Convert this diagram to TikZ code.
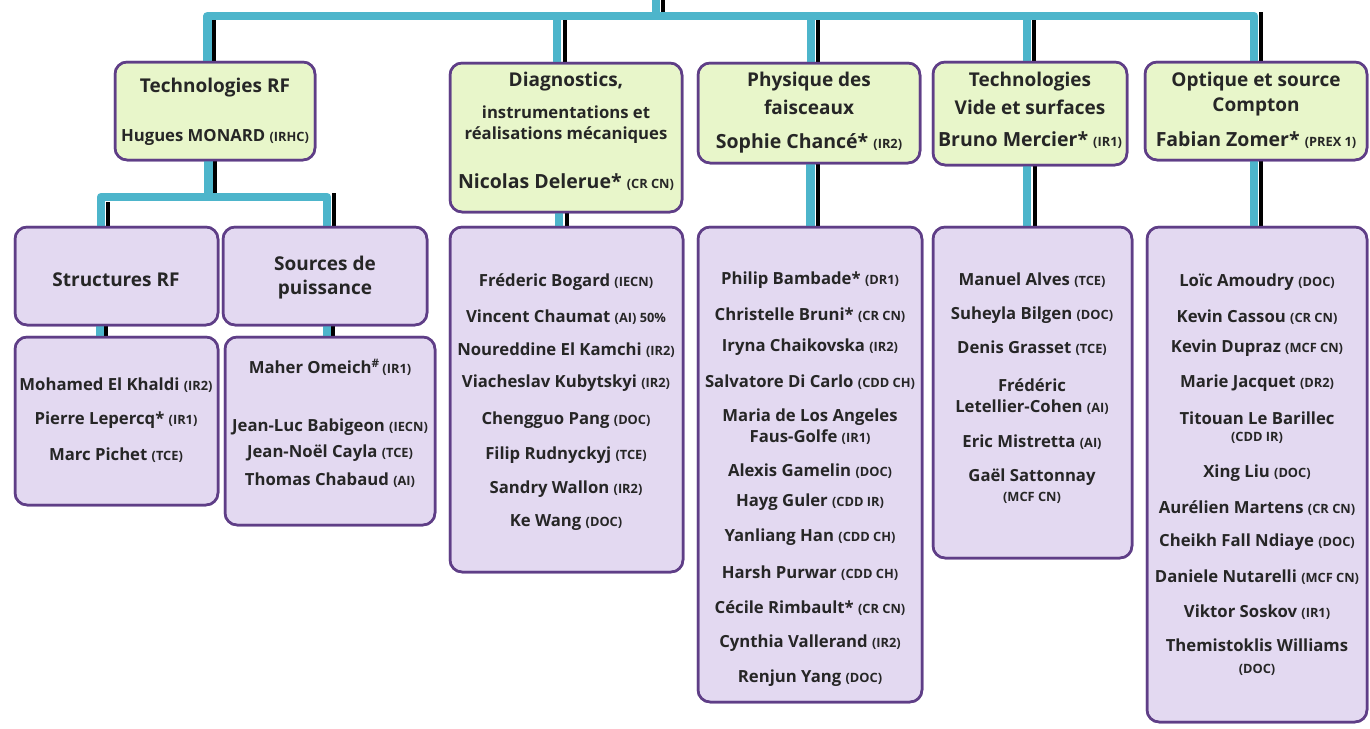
\documentclass[tikz,border=0pt]{standalone}
\usepackage{fontspec}
\setmainfont{Open Sans}
\usetikzlibrary{fit}
\definecolor{gfill}{HTML}{E8F6CA}
\definecolor{pfill}{HTML}{E3D9F1}
\definecolor{bord}{HTML}{5F3E87}
\definecolor{cblue}{HTML}{4DB5CB}
\tikzset{
 box/.style={draw=bord, line width=2.5pt, rounded corners=12pt, inner sep=0pt},
 gbox/.style={box, fill=gfill},
 pbox/.style={box, fill=pfill},
 conn/.style={draw=cblue, line width=8.5pt, line join=round},
 shade/.style={draw=black, line width=4pt},
 txt/.style={font=\bfseries\fontsize{16.7}{18}\selectfont, inner sep=0pt, text=black!85},
 head/.style={font=\bfseries\fontsize{19}{21}\selectfont, inner sep=0pt, text=black!85},
 mid/.style={font=\bfseries\fontsize{16.7}{18}\selectfont, inner sep=0pt, text=black!85},
 big/.style={font=\bfseries\fontsize{19.5}{21}\selectfont, inner sep=0pt, text=black!85},
}
\newcommand\tg[1]{{\fontsize{12.8}{14}\selectfont #1}}
\begin{document}
\begin{tikzpicture}[x=1pt,y=-1pt]
\useasboundingbox (0,0) rectangle (1370,728);
% ---------- boxes ----------
\node[gbox, fit={(115,62)(315,160)}] (trf) {};
\node[gbox, fit={(450,63)(682,212)}] (diag) {};
\node[gbox, fit={(698,63)(920,163)}] (phys) {};
\node[gbox, fit={(933,62)(1127,165)}] (vide) {};
\node[gbox, fit={(1145,62)(1367,160)}] (opt) {};
\node[pbox, fit={(15,227)(218,325)}] (srf) {};
\node[pbox, fit={(223,227)(427,325)}] (spu) {};
\node[pbox, fit={(15,337)(218,505)}] (srfm) {};
\node[pbox, fit={(225,337)(435,525)}] (spum) {};
\node[pbox, fit={(450,227)(683,572)}] (diagm) {};
\node[pbox, fit={(698,227)(922,702)}] (physm) {};
\node[pbox, fit={(933,227)(1132,558)}] (videm) {};
\node[pbox, fit={(1147,227)(1367,722)}] (optm) {};
% ---------- connectors ----------
\coordinate (topend) at (656,0);
\coordinate (barL) at (207.5,16);
\coordinate (barB) at (0,20);
\coordinate (barT) at (0,12);
\coordinate (bar2) at (0,197);
\coordinate (bar2T) at (0,193);
\coordinate (bar2B) at (0,201.5);
\draw[conn] ([xshift=-7.5pt]trf.north) -- (barL) -- ([xshift=-2pt]opt.north |- barL) -- ([xshift=-2pt]opt.north);
\draw[conn] (topend) -- (topend |- barL);
\draw[conn] ([xshift=-9pt]diag.north) -- ([xshift=-9pt]diag.north |- barL);
\draw[conn] ([xshift=2pt]phys.north) -- ([xshift=2pt]phys.north |- barL);
\draw[conn] ([xshift=-3pt]vide.north) -- ([xshift=-3pt]vide.north |- barL);
% second level
\draw[conn] ([xshift=-6.5pt]trf.south) -- ([xshift=-6.5pt]trf.south |- bar2);
\draw[conn] ([xshift=-15.5pt]srf.north) -- ([xshift=-15.5pt]srf.north |- bar2) -- ([xshift=2pt]spu.north |- bar2) -- ([xshift=2pt]spu.north);
\draw[conn] ([xshift=-16.5pt]srf.south) -- ([xshift=-16.5pt]srf.south |- srfm.north);
\draw[conn] ([xshift=2.5pt]spu.south) -- ([xshift=2.5pt]spu.south |- spum.north);
\draw[conn] ([xshift=-7pt]diag.south) -- ([xshift=-7pt]diag.south |- diagm.north);
\draw[conn] ([xshift=1.5pt]phys.south) -- ([xshift=1.5pt]phys.south |- physm.north);
\draw[conn] ([xshift=-3pt]vide.south) -- ([xshift=-3pt]vide.south |- videm.north);
\draw[conn] ([xshift=-2pt]opt.south) -- ([xshift=-2pt]opt.south |- optm.north);
% black shadows
\draw[shade] ([xshift=6.5pt]topend) -- ([xshift=6.5pt]topend |- barT);
\draw[shade] ([xshift=-1pt]trf.north) -- ([xshift=-1pt]trf.north |- barB);
\draw[shade] ([xshift=-1pt]diag.north) -- ([xshift=-1pt]diag.north |- barB);
\draw[shade] ([xshift=8.5pt]phys.north) -- ([xshift=8.5pt]phys.north |- barB);
\draw[shade] ([xshift=4pt]vide.north) -- ([xshift=4pt]vide.north |- barB);
\draw[shade] ([xshift=5pt]opt.north) -- ([xshift=5pt]opt.north |- barT);
\draw[shade] ([xshift=-0.5pt]trf.south) -- ([xshift=-0.5pt]trf.south |- bar2T);
\draw[shade] ([xshift=-9pt]srf.north) -- ([xshift=-9pt]srf.north |- bar2B);
\draw[shade] ([xshift=9pt]spu.north) -- ([xshift=9pt]spu.north |- bar2T);
\draw[shade] ([xshift=-11pt]srf.south) -- ([xshift=-11pt]srf.south |- srfm.north);
\draw[shade] ([xshift=8pt]spu.south) -- ([xshift=8pt]spu.south |- spum.north);
\draw[shade] ([xshift=0.5pt]diag.south) -- ([xshift=0.5pt]diag.south |- diagm.north);
\draw[shade] ([xshift=8.5pt]phys.south) -- ([xshift=8.5pt]phys.south |- physm.north);
\draw[shade] ([xshift=4.5pt]vide.south) -- ([xshift=4.5pt]vide.south |- videm.north);
\draw[shade] ([xshift=5pt]opt.south) -- ([xshift=5pt]opt.south |- optm.north);
% redraw box borders over connector ends
\foreach \b in {trf,diag,phys,vide,opt,srf,spu,srfm,spum,diagm,physm,videm,optm}
  \draw[draw=bord, line width=2.5pt, rounded corners=12pt] ([shift={(1.25pt,-1.25pt)}]\b.north west) rectangle ([shift={(-1.25pt,1.25pt)}]\b.south east);
% ---------- green headers ----------
\node[head] (trf1) at (215,88) {Technologies RF};
\node[txt]  (trf2) at (215,137) {Hugues MONARD \tg{(IRHC)}};
\node[head] (diag1) at (566,82) {Diagnostics,};
\node[mid]  (diag2) at (566,112) {instrumentations et};
\node[mid]  (diag3) at (566,135) {réalisations mécaniques};
\node[big]  (diag4) at (566,182) {Nicolas Delerue* \tg{(CR CN)}};
\node[head] (phys1) at (809,82) {Physique des};
\node[head] (phys2) at (809,107) {faisceaux};
\node[big]  (phys3) at (809,143) {Sophie Chancé* \tg{(IR2)}};
\node[head] (vide1) at (1030,82) {Technologies};
\node[head] (vide2) at (1030,107) {Vide et surfaces};
\node[big]  (vide3) at (1030,140) {Bruno Mercier* \tg{(IR1)}};
\node[head] (opt1) at (1256,82) {Optique et source};
\node[head] (opt2) at (1256,107) {Compton};
\node[big]  (opt3) at (1256,140) {Fabian Zomer* \tg{(PREX 1)}};
% ---------- purple sub-headers ----------
\node[head] (srf1) at (116,280) {Structures RF};
\node[head] (spu1) at (325,263) {Sources de};
\node[head] (spu2) at (325,290) {puissance};
% ---------- members ----------
\node[txt] (sm1) at (116,385) {Mohamed El Khaldi \tg{(IR2)}};
\node[txt] (sm2) at (116,420) {Pierre Lepercq* \tg{(IR1)}};
\node[txt] (sm3) at (116,455) {Marc Pichet \tg{(TCE)}};
\node[txt] (pm1) at (330,367) {Maher Omeich\textsuperscript{\#}\,\tg{(IR1)}};
\node[txt] (pm2) at (330,427) {Jean-Luc Babigeon \tg{(IECN)}};
\node[txt] (pm3) at (330,453) {Jean-Noël Cayla \tg{(TCE)}};
\node[txt] (pm4) at (330,480) {Thomas Chabaud \tg{(AI)}};
\foreach \t/\y [count=\i] in {
 {Fréderic Bogard \tg{(IECN)}}/282,
 {Vincent Chaumat \tg{(AI) 50\%}}/317,
 {Noureddine El Kamchi \tg{(IR2)}}/350,
 {Viacheslav Kubytskyi \tg{(IR2)}}/383,
 {Chengguo Pang \tg{(DOC)}}/420,
 {Filip Rudnyckyj \tg{(TCE)}}/455,
 {Sandry Wallon \tg{(IR2)}}/489,
 {Ke Wang \tg{(DOC)}}/523}
 \node[txt] (dm\i) at (566,\y) {\t};
\foreach \t/\y [count=\i] in {
 {Philip Bambade* \tg{(DR1)}}/280,
 {Christelle Bruni* \tg{(CR CN)}}/315,
 {Iryna Chaikovska \tg{(IR2)}}/347,
 {Salvatore Di Carlo \tg{(CDD CH)}}/382,
 {Maria de Los Angeles}/417,
 {Faus-Golfe \tg{(IR1)}}/437,
 {Alexis Gamelin \tg{(DOC)}}/471,
 {Hayg Guler \tg{(CDD IR)}}/502,
 {Yanliang Han \tg{(CDD CH)}}/537,
 {Harsh Purwar \tg{(CDD CH)}}/573,
 {Cécile Rimbault* \tg{(CR CN)}}/608,
 {Cynthia Vallerand \tg{(IR2)}}/643,
 {Renjun Yang \tg{(DOC)}}/678}
 \node[txt] (fm\i) at (810,\y) {\t};
\foreach \t/\y [count=\i] in {
 {Manuel Alves \tg{(TCE)}}/280,
 {Suheyla Bilgen \tg{(DOC)}}/315,
 {Denis Grasset \tg{(TCE)}}/348,
 {Frédéric}/385,
 {Letellier-Cohen \tg{(AI)}}/407,
 {Eric Mistretta \tg{(AI)}}/442,
 {Gaël Sattonnay}/477,
 {\tg{(MCF CN)}}/498}
 \node[txt] (vm\i) at (1032,\y) {\t};
\foreach \t/\y [count=\i] in {
 {Loïc Amoudry \tg{(DOC)}}/282,
 {Kevin Cassou \tg{(CR CN)}}/317,
 {Kevin Dupraz \tg{(MCF CN)}}/348,
 {Marie Jacquet \tg{(DR2)}}/383,
 {Titouan Le Barillec}/418,
 {\tg{(CDD IR)}}/438,
 {Xing Liu \tg{(DOC)}}/473,
 {Aurélien Martens \tg{(CR CN)}}/508,
 {Cheikh Fall Ndiaye \tg{(DOC)}}/542,
 {Daniele Nutarelli \tg{(MCF CN)}}/577,
 {Viktor Soskov \tg{(IR1)}}/612,
 {Themistoklis Williams}/645,
 {\tg{(DOC)}}/670}
 \node[txt] (om\i) at (1257,\y) {\t};
\end{tikzpicture}
\end{document}
